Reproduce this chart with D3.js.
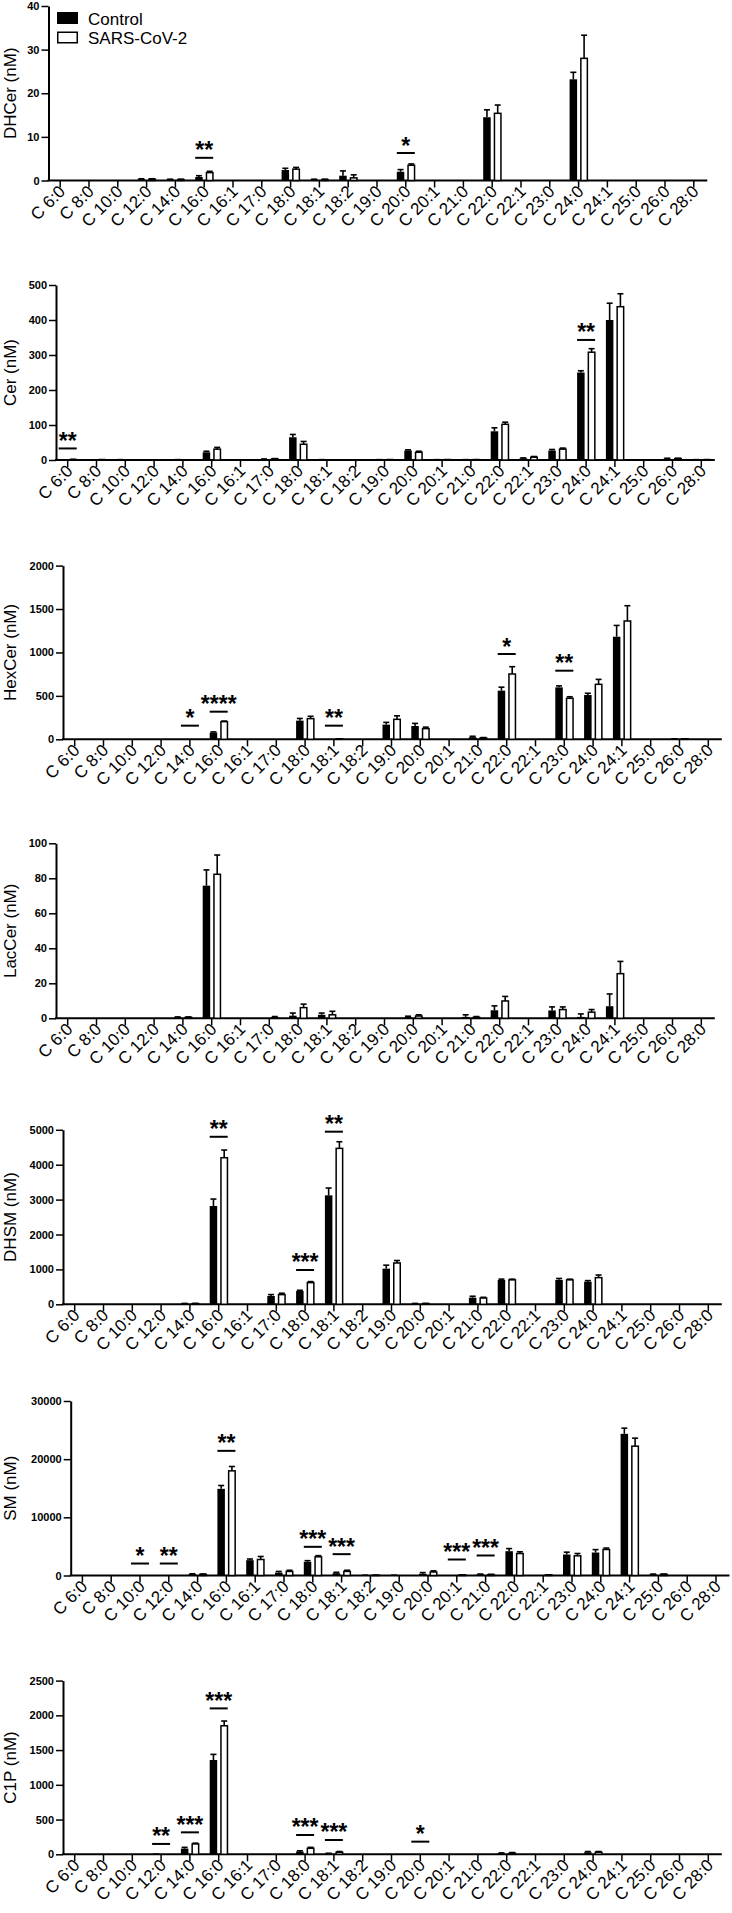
<!DOCTYPE html>
<html>
<head>
<meta charset="utf-8">
<script src="https://cdn.jsdelivr.net/npm/d3@7"></script>
<style>
  body { margin: 0; background: #fff; }
  svg { display: block; background: #fff; }
</style>
</head>
<body>
<svg id="chart" width="732" height="1913"></svg>
<script>
const FONT = '"Liberation Sans", Arial, Helvetica, sans-serif';
const STEP = 28.8;
const TICK_OFFSET = 11.2;

const CATEGORIES = ["6:0", "8:0", "10:0", "12:0", "14:0", "16:0", "16:1", "17:0", "18:0", "18:1", "18:2",
  "19:0", "20:0", "20:1", "21:0", "22:0", "22:1", "23:0", "24:0", "24:1", "25:0", "26:0", "28:0"];

// DHCer
const DHCER_CONTROL = [0, 0, 0, 0.3, 0.2, 0.8, 0, 0, 2.4, 0.2, 1.1, 0, 2.0, 0, 0, 14.5, 0, 0, 23.2, 0, 0, 0, 0];
const DHCER_CONTROL_SD = [0, 0, 0, 0.1, 0.1, 0.3, 0, 0, 0.4, 0.1, 1.1, 0, 0.5, 0, 0, 1.7, 0, 0, 1.6, 0, 0, 0, 0];
const DHCER_SARS = [0, 0, 0, 0.3, 0.2, 1.8, 0, 0, 2.6, 0.2, 0.6, 0, 3.5, 0, 0, 15.4, 0, 0, 28.0, 0, 0, 0, 0];
const DHCER_SARS_SD = [0, 0, 0, 0.1, 0.1, 0.3, 0, 0, 0.4, 0.1, 0.7, 0, 0.3, 0, 0, 1.9, 0, 0, 5.3, 0, 0, 0, 0];
const DHCER_SIG = [["16:0", 5.2, "**"], ["20:0", 6.3, "*"]];

// Cer
const CER_CONTROL = [0.5, 0, 1, 0, 1, 22, 0, 2, 65, 1, 0, 1, 27, 1, 1, 82, 5, 27, 250, 400, 0, 4, 1];
const CER_CONTROL_SD = [0, 0, 0, 0, 0, 3, 0, 1, 8, 0, 0, 0, 2, 0, 0, 10, 1, 3, 5, 48, 0, 1, 0];
const CER_SARS = [1, 1, 0, 0, 0, 31, 0, 3, 45, 0, 0, 1, 22, 1, 1, 102, 8, 31, 308, 438, 0, 4, 1];
const CER_SARS_SD = [1, 0, 0, 0, 0, 5, 0, 1, 8, 0, 0, 0, 3, 0, 0, 6, 2, 3, 10, 37, 0, 1, 0];
const CER_SIG = [["6:0", 33, "**"], ["24:0", 343, "**"]];

// HexCer
const HEXCER_CONTROL = [0, 0, 0, 0, 0, 77, 0, 0, 215, 0, 0, 169, 153, 0, 25, 560, 0, 598, 510, 1181, 0, 5, 0];
const HEXCER_CONTROL_SD = [0, 0, 0, 0, 0, 8, 0, 0, 25, 0, 0, 26, 30, 0, 10, 40, 0, 17, 20, 130, 0, 0, 0];
const HEXCER_SARS = [0, 0, 0, 0, 0, 203, 0, 0, 238, 5, 0, 230, 123, 0, 15, 752, 0, 472, 633, 1362, 0, 5, 0];
const HEXCER_SARS_SD = [0, 0, 0, 0, 0, 7, 0, 0, 27, 0, 0, 40, 17, 0, 5, 84, 0, 18, 57, 176, 0, 0, 0];
const HEXCER_SIG = [["14:0", 157, "*"], ["16:0", 318, "****"], ["18:1", 157, "**"], ["22:0", 982, "*"], ["23:0", 790, "**"]];

// LacCer
const LACCER_CONTROL = [0, 0, 0, 0, 0.5, 75.8, 0, 0, 1.5, 2, 0, 0, 0.7, 0, 0.8, 4.6, 0, 4.5, 0.8, 6.9, 0, 0, 0];
const LACCER_CONTROL_SD = [0, 0, 0, 0, 0.3, 9, 0, 0, 1.5, 1, 0, 0, 0.5, 0, 1.2, 2.5, 0, 2, 1.7, 7, 0, 0, 0];
const LACCER_SARS = [0, 0, 0, 0, 0.5, 82.3, 0, 0.3, 6.1, 2, 0, 0, 1.3, 0, 0.5, 9.9, 0, 5, 3.5, 25.5, 0, 0, 0];
const LACCER_SARS_SD = [0, 0, 0, 0, 0.3, 11, 0, 0.7, 2, 2, 0, 0, 0.7, 0, 0.5, 2.6, 0, 1.5, 1.5, 7, 0, 0, 0];
const LACCER_SIG = [];

// DHSM
const DHSM_CONTROL = [0, 0, 0, 0, 20, 2816, 0, 239, 382, 3122, 0, 1021, 20, 0, 191, 697, 0, 700, 649, 0, 0, 0, 0];
const DHSM_CONTROL_SD = [0, 0, 0, 0, 5, 200, 0, 40, 20, 210, 0, 100, 5, 0, 40, 25, 0, 40, 30, 0, 0, 0, 0];
const DHSM_SARS = [0, 0, 0, 0, 20, 4200, 0, 277, 620, 4468, 0, 1184, 20, 0, 180, 700, 0, 700, 764, 0, 0, 0, 0];
const DHSM_SARS_SD = [0, 0, 0, 0, 5, 220, 0, 40, 30, 190, 0, 70, 5, 0, 20, 20, 0, 20, 75, 0, 0, 0, 0];
const DHSM_SIG = [["16:0", 4800, "**"], ["18:0", 983, "***"], ["18:1", 4946, "**"]];

// SM
const SM_CONTROL = [0, 0, 0, 0, 250, 14900, 2636, 500, 2350, 400, 50, 50, 300, 0, 200, 4180, 0, 3610, 3950, 24355, 200, 0, 0];
const SM_CONTROL_SD = [0, 0, 0, 0, 50, 570, 200, 200, 200, 150, 0, 0, 200, 0, 50, 450, 0, 400, 500, 975, 50, 0, 0];
const SM_SARS = [0, 0, 0, 0, 200, 17990, 2750, 700, 3210, 700, 50, 0, 600, 100, 150, 3780, 100, 3380, 4470, 22235, 200, 0, 0];
const SM_SARS_SD = [0, 0, 0, 0, 50, 750, 520, 200, 200, 200, 0, 0, 200, 0, 50, 300, 0, 400, 250, 1375, 50, 0, 0];
const SM_SIG = [["10:0", 2060, "*"], ["12:0", 2060, "**"], ["16:0", 21430, "**"], ["18:0", 4930, "***"],
  ["18:1", 3670, "***"], ["20:1", 2750, "***"], ["21:0", 3440, "***"]];

// C1P
const C1P_CONTROL = [0, 0, 0, 2, 82, 1357, 0, 0, 40, 10, 0, 0, 0, 0, 0, 15, 0, 0, 30, 0, 0, 0, 0];
const C1P_CONTROL_SD = [0, 0, 0, 0, 18, 81, 0, 0, 10, 5, 0, 0, 0, 0, 0, 5, 0, 0, 10, 0, 0, 0, 0];
const C1P_SARS = [0, 0, 0, 0, 149, 1850, 0, 0, 86, 30, 0, 0, 0, 0, 0, 15, 0, 0, 30, 0, 0, 0, 0];
const C1P_SARS_SD = [0, 0, 0, 0, 11, 68, 0, 0, 14, 10, 0, 0, 0, 0, 0, 10, 0, 0, 10, 0, 0, 0, 0];
const C1P_SIG = [["12:0", 149, "**"], ["14:0", 316, "***"], ["16:0", 2100, "***"], ["18:0", 278, "***"],
  ["18:1", 206, "***"], ["20:0", 182, "*"]];

const PANELS = [
  { title: "DHCer (nM)", control: DHCER_CONTROL, controlSd: DHCER_CONTROL_SD, sars: DHCER_SARS, sarsSd: DHCER_SARS_SD,
    sig: DHCER_SIG, max: 40, step: 10, ax: 48.5, y0: 180.5, yTop: 6, legend: true },
  { title: "Cer (nM)", control: CER_CONTROL, controlSd: CER_CONTROL_SD, sars: CER_SARS, sarsSd: CER_SARS_SD,
    sig: CER_SIG, max: 500, step: 100, ax: 56, y0: 460, yTop: 285 },
  { title: "HexCer (nM)", control: HEXCER_CONTROL, controlSd: HEXCER_CONTROL_SD, sars: HEXCER_SARS, sarsSd: HEXCER_SARS_SD,
    sig: HEXCER_SIG, max: 2000, step: 500, ax: 63, y0: 739.3, yTop: 565.6 },
  { title: "LacCer (nM)", control: LACCER_CONTROL, controlSd: LACCER_CONTROL_SD, sars: LACCER_SARS, sarsSd: LACCER_SARS_SD,
    sig: LACCER_SIG, max: 100, step: 20, ax: 56, y0: 1018.3, yTop: 843.3 },
  { title: "DHSM (nM)", control: DHSM_CONTROL, controlSd: DHSM_CONTROL_SD, sars: DHSM_SARS, sarsSd: DHSM_SARS_SD,
    sig: DHSM_SIG, max: 5000, step: 1000, ax: 63, y0: 1304.3, yTop: 1129.8 },
  { title: "SM (nM)", control: SM_CONTROL, controlSd: SM_CONTROL_SD, sars: SM_SARS, sarsSd: SM_SARS_SD,
    sig: SM_SIG, max: 30000, step: 10000, ax: 70.7, y0: 1575.5, yTop: 1401 },
  { title: "C1P (nM)", control: C1P_CONTROL, controlSd: C1P_CONTROL_SD, sars: C1P_SARS, sarsSd: C1P_SARS_SD,
    sig: C1P_SIG, max: 2500, step: 500, ax: 63, y0: 1854.3, yTop: 1680.6 }
];

const styleAxisText = (sel, size, weight) =>
  sel.attr("font-family", FONT).attr("font-size", size).attr("font-weight", weight).attr("fill", "#000");

const drawPanel = (svg, panel) => {
  const first = panel.ax + TICK_OFFSET;
  const x = d3.scalePoint().domain(CATEGORIES).range([first, first + STEP * (CATEGORIES.length - 1)]);
  const y = d3.scaleLinear().domain([0, panel.max]).range([panel.y0, panel.yTop]);
  const group = svg.append("g");

  // y axis
  const yAxis = d3.axisLeft(y)
    .tickValues(d3.range(0, panel.max + 1, panel.step))
    .tickFormat(d3.format("d"))
    .tickSize(7)
    .tickSizeOuter(0)
    .tickPadding(2);
  const yg = group.append("g").attr("transform", `translate(${panel.ax},0)`).call(yAxis);
  yg.select(".domain").attr("stroke-width", 2);
  yg.selectAll(".tick line").attr("stroke-width", 1.5);
  styleAxisText(yg.selectAll(".tick text"), 11, "bold");

  // x axis
  const xAxis = d3.axisBottom(x).tickSize(7).tickSizeOuter(0).tickFormat((d) => `C ${d}`);
  const xg = group.append("g").attr("transform", `translate(0,${panel.y0})`).call(xAxis);
  xg.select(".domain").remove();
  xg.append("line")
    .attr("x1", panel.ax - 1)
    .attr("x2", x(CATEGORIES[CATEGORIES.length - 1]) + 14)
    .attr("stroke", "#000")
    .attr("stroke-width", 2);
  xg.selectAll(".tick line").attr("stroke-width", 1.5);
  styleAxisText(xg.selectAll(".tick text"), 17, "normal")
    .attr("x", 0)
    .attr("y", 0)
    .attr("dy", null)
    .attr("text-anchor", "end")
    .attr("transform", "translate(6,12) rotate(-45)");

  // axis title
  group.append("text")
    .attr("transform", `translate(16,${(panel.y0 + panel.yTop) / 2}) rotate(-90)`)
    .attr("text-anchor", "middle")
    .attr("font-family", FONT)
    .attr("font-size", 17)
    .text(panel.title);

  const rows = CATEGORIES.map((cat, i) => ({
    cat,
    control: panel.control[i],
    controlSd: panel.controlSd[i],
    sars: panel.sars[i],
    sarsSd: panel.sarsSd[i]
  }));

  const series = [
    { key: "control", sd: "controlSd", offset: -8.5, width: 7.5, fill: "#000", stroke: "none", sw: 0 },
    { key: "sars", sd: "sarsSd", offset: 2.75, width: 6.5, fill: "#fff", stroke: "#000", sw: 1.5 }
  ];

  series.forEach((s) => {
    const shown = rows.filter((row) => row[s.key] > 0);
    group.append("g")
      .selectAll("rect")
      .data(shown)
      .join("rect")
      .attr("x", (row) => x(row.cat) + s.offset)
      .attr("width", s.width)
      .attr("y", (row) => y(row[s.key]))
      .attr("height", (row) => Math.max(0, panel.y0 - y(row[s.key])))
      .attr("fill", s.fill)
      .attr("stroke", s.stroke)
      .attr("stroke-width", s.sw);

    const mid = (row) => x(row.cat) + s.offset + s.width / 2;
    const errs = group.append("g").attr("stroke", "#000").attr("stroke-width", 1.6);
    errs.selectAll("line.v")
      .data(shown)
      .join("line")
      .attr("class", "v")
      .attr("x1", mid)
      .attr("x2", mid)
      .attr("y1", (row) => y(row[s.key]))
      .attr("y2", (row) => y(row[s.key] + row[s.sd]));
    errs.selectAll("line.cap")
      .data(shown)
      .join("line")
      .attr("class", "cap")
      .attr("x1", (row) => mid(row) - 3)
      .attr("x2", (row) => mid(row) + 3)
      .attr("y1", (row) => y(row[s.key] + row[s.sd]))
      .attr("y2", (row) => y(row[s.key] + row[s.sd]));
  });

  // significance marks
  const sig = group.append("g");
  sig.selectAll("line")
    .data(panel.sig)
    .join("line")
    .attr("x1", (d) => x(d[0]) - 8.5)
    .attr("x2", (d) => x(d[0]) + 9.5)
    .attr("y1", (d) => y(d[1]))
    .attr("y2", (d) => y(d[1]))
    .attr("stroke", "#000")
    .attr("stroke-width", 2);
  sig.selectAll("text")
    .data(panel.sig)
    .join("text")
    .attr("x", (d) => x(d[0]) + 0.5)
    .attr("y", (d) => y(d[1]) + 0.5)
    .attr("text-anchor", "middle")
    .attr("font-family", FONT)
    .attr("font-weight", "bold")
    .attr("font-size", 23)
    .text((d) => d[2]);

  if (panel.legend) {
    const legend = group.append("g").attr("font-family", FONT).attr("font-size", 17);
    legend.append("rect").attr("x", 57).attr("y", 12).attr("width", 21).attr("height", 12).attr("fill", "#000");
    legend.append("rect").attr("x", 57.75).attr("y", 32.25).attr("width", 19.5).attr("height", 10.5)
      .attr("fill", "#fff").attr("stroke", "#000").attr("stroke-width", 1.5);
    legend.append("text").attr("x", 88).attr("y", 24.5).text("Control");
    legend.append("text").attr("x", 88).attr("y", 43.5).text("SARS-CoV-2");
  }
};

const svg = d3.select("#chart");
PANELS.forEach((panel) => drawPanel(svg, panel));
</script>
</body>
</html>
